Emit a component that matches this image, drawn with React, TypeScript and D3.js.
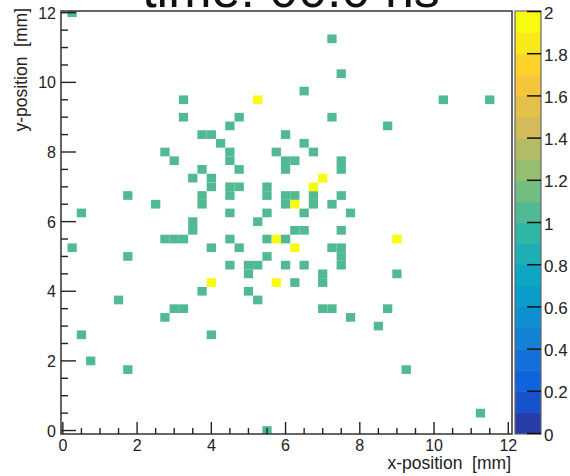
import React from "react";
import * as d3 from "d3";

// Bin centres (mm) of cells with content 1
const onesX = [0.25, 7.25, 7.5, 6.5, 3.25, 10.25, 11.5, 3.25, 4.75, 7.25, 4.5, 8.75, 3.75, 4.0, 6.0, 4.25, 6.5, 2.75, 4.5, 5.75, 6.75, 3.0, 4.5, 6.0, 6.25, 7.5, 3.75, 4.75, 6.0, 7.5, 3.5, 4.0, 4.0, 4.5, 4.75, 5.5, 1.75, 3.75, 4.5, 5.5, 6.0, 6.25, 6.75, 7.5, 2.5, 3.75, 6.0, 6.75, 7.25, 0.5, 4.5, 5.5, 6.5, 7.75, 3.5, 5.25, 3.5, 6.25, 6.5, 7.5, 2.75, 3.0, 3.25, 4.5, 5.5, 6.0, 0.25, 4.0, 4.75, 7.25, 7.5, 1.75, 5.5, 7.5, 4.5, 5.0, 5.25, 6.0, 6.5, 7.5, 5.0, 9.0, 7.0, 6.25, 7.0, 3.75, 5.0, 1.5, 5.25, 3.0, 3.25, 7.0, 7.25, 8.75, 2.75, 7.75, 8.5, 0.5, 4.0, 0.75, 1.75, 9.25, 11.25, 5.5];
const onesY = [12, 11.25, 10.25, 9.75, 9.5, 9.5, 9.5, 9.0, 9.0, 9.0, 8.75, 8.75, 8.5, 8.5, 8.5, 8.25, 8.25, 8.0, 8.0, 8.0, 8.0, 7.75, 7.75, 7.75, 7.75, 7.75, 7.5, 7.5, 7.5, 7.5, 7.25, 7.25, 7.0, 7.0, 7.0, 7.0, 6.75, 6.75, 6.75, 6.75, 6.75, 6.75, 6.75, 6.75, 6.5, 6.5, 6.5, 6.5, 6.5, 6.25, 6.25, 6.25, 6.25, 6.25, 6.0, 6.0, 5.75, 5.75, 5.75, 5.75, 5.5, 5.5, 5.5, 5.5, 5.5, 5.5, 5.25, 5.25, 5.25, 5.25, 5.25, 5.0, 5.0, 5.0, 4.75, 4.75, 4.75, 4.75, 4.75, 4.75, 4.5, 4.5, 4.5, 4.25, 4.25, 4.0, 4.0, 3.75, 3.75, 3.5, 3.5, 3.5, 3.5, 3.5, 3.25, 3.25, 3.0, 2.75, 2.75, 2.0, 1.75, 1.75, 0.5, 0.0];
// Bin centres (mm) of cells with content 2
const twosX = [5.25, 7.0, 6.75, 6.25, 5.75, 6.25, 9.0, 4.0, 5.75];
const twosY = [9.5, 7.25, 7.0, 6.5, 5.5, 5.25, 5.5, 4.25, 4.25];

const axisTicks = [0, 2, 4, 6, 8, 10, 12];
const zTicks = [0, 0.2, 0.4, 0.6, 0.8, 1, 1.2, 1.4, 1.6, 1.8, 2];
const zTickLabels = ["0", "0.2", "0.4", "0.6", "0.8", "1", "1.2", "1.4", "1.6", "1.8", "2"];
const title = "time: 00.0 ns";
const xTitle = "x-position  [mm]";
const yTitle = "y-position  [mm]";

// ROOT kBird palette stops
const birdR = [0.2082, 0.0592, 0.078, 0.0232, 0.1802, 0.5301, 0.8186, 0.9956, 0.9764];
const birdG = [0.1664, 0.3599, 0.5041, 0.6419, 0.7178, 0.7492, 0.7328, 0.7862, 0.9832];
const birdB = [0.5293, 0.8684, 0.8385, 0.7914, 0.6425, 0.4662, 0.3499, 0.1968, 0.0539];

const BIN = 0.25;
const NCONT = 20;
const ZMAX = 2;

export default function App() {
  const W = 570, H = 476;
  const fL = 61, fR = 512, fT = 11, fB = 434;
  const x = d3.scaleLinear().domain([-0.05, 12.1]).range([fL, fR]);
  const y = d3.scaleLinear().domain([-0.1, 12.05]).range([fB, fT]);
  const z = d3.scaleLinear().domain([0, ZMAX]).range([433.5, 11.5]);

  const stops = birdR.map((_, i) => i / (birdR.length - 1));
  const pal = d3
    .scaleLinear<string>()
    .domain(stops)
    .range(birdR.map((r, i) => d3.rgb(r * 255, birdG[i] * 255, birdB[i] * 255).toString()))
    .interpolate(d3.interpolateRgb);
  const bandColor = (b: number) => {
    const idx = Math.floor(((b + 0.99) * 255) / NCONT);
    return pal(Math.min(254, idx) / 254);
  };
  const valColor = (v: number) => bandColor(Math.min(NCONT - 1, Math.floor((v / ZMAX) * NCONT + 1e-9)));

  const cells = [
    ...onesX.map((cx, i) => ({ cx, cy: onesY[i], v: 1 })),
    ...twosX.map((cx, i) => ({ cx, cy: twosY[i], v: 2 })),
  ];

  const minorX = d3.range(0, 12.01, 0.5).filter((t) => Math.abs(t / 2 - Math.round(t / 2)) > 1e-6);
  const minorY = minorX;
  const font = "Liberation Sans, Arial, Helvetica, sans-serif";
  const txt = "#222";
  const bands = d3.range(NCONT);
  const cbL = 515, cbR = 541;

  return (
    <svg width={W} height={H} style={{ position: "absolute", left: 0, top: 0, background: "#fff" }}>
      <defs>
        <clipPath id="frameClip">
          <rect x={fL} y={fT} width={fR - fL} height={fB - fT} />
        </clipPath>
      </defs>
      <rect x={0} y={0} width={W} height={H} fill="#fff" />
      <text x={291} y={7} textAnchor="middle" fontFamily={font} fontSize={52} fill="#111">
        {title}
      </text>
      <g clipPath="url(#frameClip)">
        {cells.map((c, i) => (
          <rect
            key={i}
            x={x(c.cx - BIN / 2)}
            y={y(c.cy + BIN / 2)}
            width={x(c.cx + BIN / 2) - x(c.cx - BIN / 2)}
            height={y(c.cy - BIN / 2) - y(c.cy + BIN / 2)}
            fill={valColor(c.v)}
          />
        ))}
      </g>
      {/* frame */}
      <rect x={fL} y={fT} width={fR - fL} height={fB - fT} fill="none" stroke="#333" strokeWidth={1.5} />
      {/* x ticks */}
      {axisTicks.map((t) => (
        <line key={"xt" + t} x1={x(t)} x2={x(t)} y1={fB} y2={fB - 12} stroke="#222" strokeWidth={1.4} />
      ))}
      {minorX.map((t) => (
        <line key={"xm" + t} x1={x(t)} x2={x(t)} y1={fB} y2={fB - 6} stroke="#222" strokeWidth={1.4} />
      ))}
      {axisTicks.map((t) => (
        <text key={"xl" + t} x={x(t)} y={451} textAnchor="middle" fontFamily={font} fontSize={16} fill={txt}>
          {t}
        </text>
      ))}
      {/* y ticks */}
      {axisTicks.map((t) => (
        <line key={"yt" + t} x1={fL} x2={fL + 15} y1={y(t)} y2={y(t)} stroke="#222" strokeWidth={1.4} />
      ))}
      {minorY.map((t) => (
        <line key={"ym" + t} x1={fL} x2={fL + 7} y1={y(t)} y2={y(t)} stroke="#222" strokeWidth={1.4} />
      ))}
      {axisTicks.map((t) => (
        <text key={"yl" + t} x={56} y={y(t) + 6} textAnchor="end" fontFamily={font} fontSize={16} fill={txt}>
          {t}
        </text>
      ))}
      <text x={511} y={469} textAnchor="end" fontFamily={font} fontSize={17.5} fill={txt} style={{ whiteSpace: "pre" }}>
        {xTitle}
      </text>
      <text
        transform={`translate(27,8) rotate(-90)`}
        textAnchor="end"
        fontFamily={font}
        fontSize={17.5}
        fill={txt}
        style={{ whiteSpace: "pre" }}
      >
        {yTitle}
      </text>
      {/* colour bar */}
      {bands.map((b) => (
        <rect
          key={"cb" + b}
          x={cbL}
          y={z(((b + 1) * ZMAX) / NCONT)}
          width={cbR - cbL}
          height={z((b * ZMAX) / NCONT) - z(((b + 1) * ZMAX) / NCONT) + 0.5}
          fill={bandColor(b)}
        />
      ))}
      <rect x={cbL} y={fT} width={cbR - cbL} height={fB - fT} fill="none" stroke="#666" strokeWidth={1.2} />
      {zTicks.map((t, i) => (
        <g key={"zt" + t}>
          <line x1={cbR - 14} x2={cbR} y1={z(t)} y2={z(t)} stroke="#111" strokeWidth={1.5} />
          <text x={544} y={z(t) + 7} fontFamily={font} fontSize={17} fill={txt}>
            {zTickLabels[i]}
          </text>
        </g>
      ))}
    </svg>
  );
}
